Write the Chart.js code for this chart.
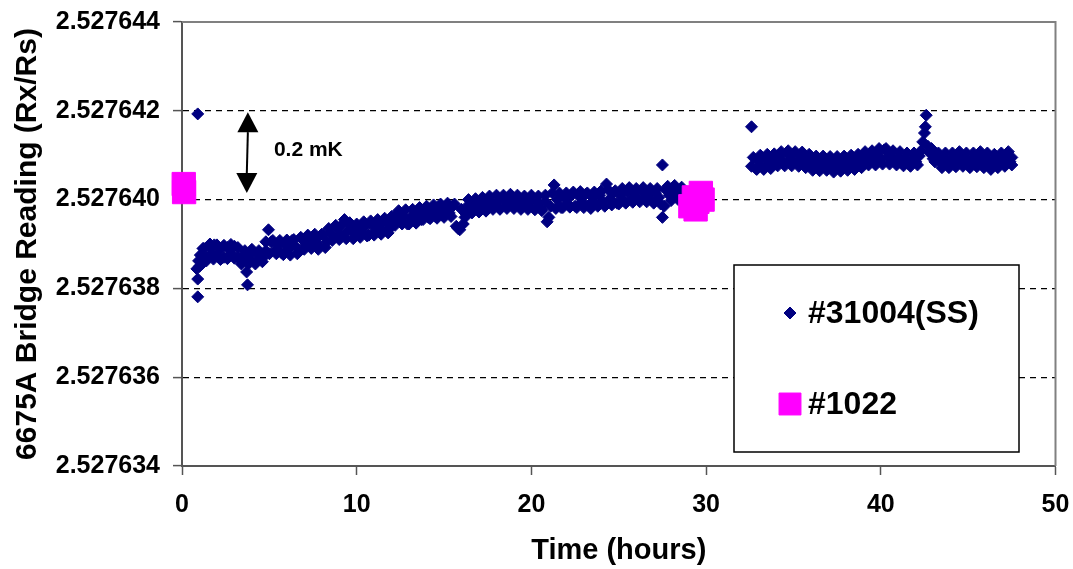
<!DOCTYPE html>
<html>
<head>
<meta charset="utf-8">
<title>6675A Bridge Reading</title>
<script src="https://cdn.jsdelivr.net/npm/chart.js@4.4.1/dist/chart.umd.min.js"></script>
<style>
  body { margin: 0; background: #fff; }
  canvas { display: block; }
</style>
</head>
<body>
<canvas id="chart" width="1073" height="569"></canvas>
<script>
// Data
const ssLabel = '#31004(SS)';
const ssTime = [
  // first run
  0.9, 0.9, 0.9, 0.85, 0.95, 1.05, 1.15, 1.25, 1.4, 1.55, 1.7, 1.85, 2.0, 2.2, 2.4, 2.6, 2.8, 3.0, 3.2, 3.4,
  3.6, 3.7, 3.75, 3.85, 4.0, 4.2, 4.4, 4.6, 4.8, 4.95, 5.1, 5.3, 5.5, 5.7, 5.9, 6.1, 6.3, 6.5, 6.7, 6.9,
  7.1, 7.3, 7.5, 7.7, 7.9, 8.1, 8.3, 8.5, 8.7, 8.9, 9.1, 9.3, 9.5, 9.7, 9.9, 10.1, 10.3, 10.5, 10.7, 10.9,
  11.1, 11.3, 11.5, 11.7, 11.9, 12.1, 12.3, 12.5, 12.7, 12.9, 13.1, 13.3, 13.5, 13.7, 13.9, 14.1, 14.3, 14.5, 14.7, 14.9,
  15.1, 15.3, 15.5, 15.7, 15.9, 16.1, 16.2, 16.4, 16.6, 16.8, 17.0, 17.2, 17.4, 17.6, 17.8, 18.0, 18.2, 18.4, 18.6, 18.8,
  19.0, 19.2, 19.4, 19.6, 19.8, 20.0, 20.2, 20.4, 20.6, 20.8, 20.9, 21.1, 21.3, 21.5, 21.7, 21.9, 22.1, 22.3, 22.5, 22.7,
  22.9, 23.1, 23.3, 23.5, 23.7, 23.9, 24.1, 24.3, 24.5, 24.7, 24.9, 25.1, 25.3, 25.5, 25.7, 25.9, 26.1, 26.3, 26.5, 26.7,
  26.9, 27.1, 27.3, 27.5, 27.5, 27.6, 27.7, 27.9, 28.1, 28.3, 28.5, 28.7,
  1.0, 1.2, 1.4, 1.6, 1.8, 2.0, 2.2, 2.4, 2.6, 2.8, 3.0, 3.2, 3.4, 3.6, 3.8, 4.0, 4.2, 4.4, 4.6, 4.8,
  5.0, 5.2, 5.4, 5.6, 5.8, 6.0, 6.2, 6.4, 6.6, 6.8, 7.0, 7.2, 7.4, 7.6, 7.8, 8.0, 8.2, 8.4, 8.6, 8.8,
  9.0, 9.2, 9.4, 9.6, 9.8, 10.0, 10.2, 10.4, 10.6, 10.8, 11.0, 11.2, 11.4, 11.6, 11.8, 12.0, 12.2, 12.4, 12.6, 12.8,
  13.0, 13.2, 13.4, 13.6, 13.8, 14.0, 14.2, 14.4, 14.6, 14.8, 15.0, 15.2, 15.4, 15.6, 15.8, 16.0, 16.2, 16.4, 16.6, 16.8,
  17.0, 17.2, 17.4, 17.6, 17.8, 18.0, 18.2, 18.4, 18.6, 18.8, 19.0, 19.2, 19.4, 19.6, 19.8, 20.0, 20.2, 20.4, 20.6, 20.8,
  21.0, 21.2, 21.4, 21.6, 21.8, 22.0, 22.2, 22.4, 22.6, 22.8, 23.0, 23.2, 23.4, 23.6, 23.8, 24.0, 24.2, 24.4, 24.6, 24.8,
  25.0, 25.2, 25.4, 25.6, 25.8, 26.0, 26.2, 26.4, 26.6, 26.8, 27.0, 27.2, 27.4, 27.8, 28.0, 28.2, 28.4, 28.6,
  // second run
  32.6, 32.6, 32.7, 32.85, 33.0, 33.2, 33.4, 33.6, 33.8, 34.0, 34.2, 34.4, 34.6, 34.8, 35.0, 35.2, 35.4, 35.6, 35.8, 36.0,
  36.2, 36.4, 36.6, 36.8, 37.0, 37.2, 37.4, 37.6, 37.8, 38.0, 38.2, 38.4, 38.6, 38.8, 39.0, 39.2, 39.4, 39.6, 39.8, 40.0,
  40.2, 40.4, 40.6, 40.8, 41.0, 41.2, 41.4, 41.6, 41.8, 42.0, 42.2, 42.4, 42.5, 42.55, 42.6, 42.7, 42.8, 43.0, 43.2, 43.4,
  43.6, 43.8, 44.0, 44.2, 44.4, 44.6, 44.8, 45.0, 45.2, 45.4, 45.6, 45.8, 46.0, 46.2, 46.4, 46.6, 46.8, 47.0, 47.2, 47.4,
  47.5,
  32.9, 33.1, 33.3, 33.5, 33.7, 33.9, 34.1, 34.3, 34.5, 34.7, 34.9, 35.1, 35.3, 35.5, 35.7, 35.9, 36.1, 36.3, 36.5, 36.7,
  36.9, 37.1, 37.3, 37.5, 37.7, 37.9, 38.1, 38.3, 38.5, 38.7, 38.9, 39.1, 39.3, 39.5, 39.7, 39.9, 40.1, 40.3, 40.5, 40.7,
  40.9, 41.1, 41.3, 41.5, 41.7, 41.9, 42.1, 42.3, 42.9, 43.1, 43.3, 43.5, 43.7, 43.9, 44.1, 44.3, 44.5, 44.7, 44.9, 45.1,
  45.3, 45.5, 45.7, 45.9, 46.1, 46.3, 46.5, 46.7, 46.9, 47.1, 47.3, 47.5
];
const ssReading = [
  // first run
  2.52764193, 2.52763781, 2.52763821, 2.52763844, 2.52763862, 2.52763875, 2.52763855, 2.52763890, 2.52763870, 2.52763895,
  2.52763880, 2.52763898, 2.52763875, 2.52763888, 2.52763870, 2.52763892, 2.52763878, 2.52763895, 2.52763872, 2.52763862,
  2.52763878, 2.52763837, 2.52763808, 2.52763865, 2.52763880, 2.52763860, 2.52763875, 2.52763868, 2.52763885, 2.52763932,
  2.52763905, 2.52763885, 2.52763898, 2.52763880, 2.52763900, 2.52763890, 2.52763908, 2.52763895, 2.52763885, 2.52763910,
  2.52763898, 2.52763915, 2.52763900, 2.52763912, 2.52763895, 2.52763920, 2.52763905, 2.52763925, 2.52763915, 2.52763935,
  2.52763920, 2.52763955, 2.52763930, 2.52763940, 2.52763922, 2.52763935, 2.52763925, 2.52763940, 2.52763920, 2.52763942,
  2.52763930, 2.52763945, 2.52763930, 2.52763948, 2.52763935, 2.52763950, 2.52763965, 2.52763950, 2.52763962, 2.52763945,
  2.52763960, 2.52763952, 2.52763968, 2.52763955, 2.52763972, 2.52763960, 2.52763975, 2.52763962, 2.52763978, 2.52763965,
  2.52763980, 2.52763970, 2.52763985, 2.52763940, 2.52763932, 2.52763945, 2.52763970, 2.52763988, 2.52763975, 2.52763990,
  2.52763978, 2.52763995, 2.52763982, 2.52763998, 2.52763985, 2.52763992, 2.52763980, 2.52764000, 2.52763988, 2.52764005,
  2.52763990, 2.52763998, 2.52763982, 2.52763995, 2.52763985, 2.52763998, 2.52763980, 2.52763992, 2.52763975, 2.52763995,
  2.52763950, 2.52763985, 2.52764033, 2.52764000, 2.52763982, 2.52764005, 2.52763990, 2.52764010, 2.52763985, 2.52764008,
  2.52763995, 2.52764012, 2.52763988, 2.52764005, 2.52763992, 2.52764010, 2.52763995, 2.52764035, 2.52764002, 2.52764015,
  2.52763992, 2.52764010, 2.52763998, 2.52764018, 2.52764000, 2.52764015, 2.52764002, 2.52764020, 2.52764005, 2.52764012,
  2.52763998, 2.52764015, 2.52764005, 2.52764078, 2.52763960, 2.52763985, 2.52764022, 2.52764010, 2.52764025, 2.52764012,
  2.52764020, 2.52764005,
  2.52763850, 2.52763890, 2.52763862, 2.52763900, 2.52763866, 2.52763898, 2.52763865, 2.52763897, 2.52763867, 2.52763899,
  2.52763868, 2.52763892, 2.52763855, 2.52763885, 2.52763855, 2.52763888, 2.52763855, 2.52763885, 2.52763860, 2.52763905,
  2.52763878, 2.52763908, 2.52763878, 2.52763908, 2.52763876, 2.52763909, 2.52763875, 2.52763910, 2.52763878, 2.52763915,
  2.52763888, 2.52763920, 2.52763890, 2.52763922, 2.52763888, 2.52763922, 2.52763892, 2.52763935, 2.52763908, 2.52763942,
  2.52763910, 2.52763945, 2.52763912, 2.52763948, 2.52763912, 2.52763945, 2.52763915, 2.52763950, 2.52763918, 2.52763952,
  2.52763920, 2.52763955, 2.52763922, 2.52763958, 2.52763925, 2.52763962, 2.52763942, 2.52763975, 2.52763945, 2.52763977,
  2.52763945, 2.52763978, 2.52763947, 2.52763982, 2.52763955, 2.52763985, 2.52763957, 2.52763988, 2.52763958, 2.52763990,
  2.52763960, 2.52763992, 2.52763962, 2.52763990, 2.52763935, 2.52763978, 2.52763960, 2.52764000, 2.52763970, 2.52764002,
  2.52763972, 2.52764005, 2.52763974, 2.52764008, 2.52763978, 2.52764010, 2.52763978, 2.52764010, 2.52763980, 2.52764012,
  2.52763980, 2.52764010, 2.52763978, 2.52764008, 2.52763978, 2.52764010, 2.52763977, 2.52764008, 2.52763978, 2.52764010,
  2.52763960, 2.52764015, 2.52763980, 2.52764015, 2.52763982, 2.52764015, 2.52763983, 2.52764017, 2.52763982, 2.52764018,
  2.52763982, 2.52764015, 2.52763980, 2.52764017, 2.52763985, 2.52764020, 2.52763985, 2.52764022, 2.52763988, 2.52764020,
  2.52763990, 2.52764025, 2.52763992, 2.52764027, 2.52763994, 2.52764025, 2.52763995, 2.52764027, 2.52763995, 2.52764025,
  2.52763992, 2.52764025, 2.52763990, 2.52764030, 2.52763998, 2.52764032, 2.52764000, 2.52764028,
  // second run
  2.52764164, 2.52764075, 2.52764095, 2.52764070, 2.52764088, 2.52764075, 2.52764092, 2.52764078, 2.52764095, 2.52764080,
  2.52764098, 2.52764085, 2.52764105, 2.52764090, 2.52764102, 2.52764085, 2.52764098, 2.52764082, 2.52764095, 2.52764078,
  2.52764092, 2.52764075, 2.52764090, 2.52764078, 2.52764088, 2.52764072, 2.52764085, 2.52764075, 2.52764088, 2.52764078,
  2.52764092, 2.52764080, 2.52764090, 2.52764082, 2.52764095, 2.52764085, 2.52764098, 2.52764088, 2.52764105, 2.52764092,
  2.52764112, 2.52764095, 2.52764105, 2.52764088, 2.52764095, 2.52764082, 2.52764092, 2.52764080, 2.52764090, 2.52764085,
  2.52764098, 2.52764130, 2.52764150, 2.52764164, 2.52764190, 2.52764120, 2.52764105, 2.52764092, 2.52764100, 2.52764085,
  2.52764095, 2.52764080, 2.52764092, 2.52764085, 2.52764098, 2.52764088, 2.52764095, 2.52764082, 2.52764092, 2.52764085,
  2.52764098, 2.52764085, 2.52764095, 2.52764078, 2.52764090, 2.52764082, 2.52764095, 2.52764088, 2.52764100, 2.52764085,
  2.52764095,
  2.52764068, 2.52764100, 2.52764068, 2.52764102, 2.52764070, 2.52764103, 2.52764076, 2.52764108, 2.52764076, 2.52764110,
  2.52764076, 2.52764108, 2.52764075, 2.52764107, 2.52764072, 2.52764102, 2.52764066, 2.52764098, 2.52764065, 2.52764098,
  2.52764066, 2.52764097, 2.52764062, 2.52764097, 2.52764064, 2.52764098, 2.52764066, 2.52764100, 2.52764068, 2.52764102,
  2.52764072, 2.52764108, 2.52764078, 2.52764110, 2.52764078, 2.52764115, 2.52764080, 2.52764115, 2.52764080, 2.52764110,
  2.52764078, 2.52764108, 2.52764076, 2.52764105, 2.52764075, 2.52764105, 2.52764078, 2.52764110, 2.52764115, 2.52764085,
  2.52764105, 2.52764072, 2.52764105, 2.52764072, 2.52764105, 2.52764074, 2.52764108, 2.52764075, 2.52764105, 2.52764072,
  2.52764105, 2.52764074, 2.52764108, 2.52764072, 2.52764105, 2.52764068, 2.52764102, 2.52764072, 2.52764105, 2.52764075,
  2.52764108, 2.52764078
];

const refLabel = '#1022';
const refTime = [0.1, 0.12, 29.1, 29.3, 29.5, 29.7, 29.8, 29.4];
const refReading = [2.52764035, 2.52764017, 2.52763985, 2.52764005, 2.52763995, 2.52764015, 2.52764000, 2.52763978];

const xTicks = [0, 10, 20, 30, 40, 50];
const yTicks = [2.527634, 2.527636, 2.527638, 2.52764, 2.527642, 2.527644];

// "0.2 mK" arrow, in data units
const arrowTime = [3.77, 3.71];
const arrowReading = [2.52764197, 2.52764015];
const noteTime = 5.26;
const noteReading = 2.52764112;
const noteText = '0.2 mK';

const navy = '#000080';
const magenta = '#ff00ff';
const fontFamily = "'Liberation Sans', Arial, sans-serif";

const toPoints = (xs, ys) => xs.map((x, i) => ({ x: x, y: ys[i] }));

// top and right edges of the plot area
const frame = {
  id: 'frame',
  beforeDatasetsDraw(chart) {
    const { ctx, chartArea: a } = chart;
    ctx.save();
    ctx.strokeStyle = '#808080';
    ctx.lineWidth = 2;
    ctx.beginPath();
    ctx.moveTo(a.left, a.top);
    ctx.lineTo(a.right, a.top);
    ctx.lineTo(a.right, a.bottom);
    ctx.stroke();
    ctx.restore();
  },
};

const arrowNote = {
  id: 'arrowNote',
  afterDatasetsDraw(chart) {
    const { ctx, scales } = chart;
    const x1 = scales.x.getPixelForValue(arrowTime[0]);
    const y1 = scales.y.getPixelForValue(arrowReading[0]);
    const x2 = scales.x.getPixelForValue(arrowTime[1]);
    const y2 = scales.y.getPixelForValue(arrowReading[1]);
    const head = 20, half = 10.5;
    ctx.save();
    ctx.strokeStyle = '#000';
    ctx.fillStyle = '#000';
    ctx.lineWidth = 2;
    ctx.beginPath();
    ctx.moveTo(x1, y1 + head);
    ctx.lineTo(x2, y2 - head);
    ctx.stroke();
    ctx.beginPath();
    ctx.moveTo(x1, y1);
    ctx.lineTo(x1 - half, y1 + head);
    ctx.lineTo(x1 + half, y1 + head);
    ctx.closePath();
    ctx.fill();
    ctx.beginPath();
    ctx.moveTo(x2, y2);
    ctx.lineTo(x2 - half, y2 - head);
    ctx.lineTo(x2 + half, y2 - head);
    ctx.closePath();
    ctx.fill();
    ctx.font = 'bold 21px ' + fontFamily;
    ctx.textBaseline = 'middle';
    ctx.textAlign = 'left';
    ctx.fillText(noteText, scales.x.getPixelForValue(noteTime), scales.y.getPixelForValue(noteReading));
    ctx.restore();
  },
};

// boxed legend inside the plot
const boxLegend = {
  id: 'boxLegend',
  afterDraw(chart) {
    const { ctx } = chart;
    const box = { left: 734, top: 265, width: 285, height: 187 };
    ctx.save();
    ctx.fillStyle = '#fff';
    ctx.fillRect(box.left, box.top, box.width, box.height);
    ctx.strokeStyle = '#000';
    ctx.lineWidth = 1.5;
    ctx.strokeRect(box.left, box.top, box.width, box.height);
    ctx.font = 'bold 32px ' + fontFamily;
    ctx.textBaseline = 'middle';
    const rows = [313, 404];
    chart.data.datasets.forEach((ds, i) => {
      ctx.fillStyle = ds.pointBackgroundColor;
      ctx.strokeStyle = ds.pointBorderColor;
      ctx.lineWidth = 1;
      Chart.helpers.drawPoint(ctx, {
        pointStyle: ds.pointStyle,
        radius: i === 0 ? 6 : 15.5,
        borderWidth: 1,
        rotation: 0,
      }, 790, rows[i]);
      ctx.fillStyle = '#000';
      ctx.fillText(ds.label, 808, rows[i] + 1);
    });
    ctx.restore();
  },
};

const ctx = document.getElementById('chart');
new Chart(ctx, {
  type: 'scatter',
  data: {
    datasets: [
      {
        label: ssLabel,
        data: toPoints(ssTime, ssReading),
        pointStyle: 'rectRot',
        pointRadius: 6,
        pointBorderWidth: 1,
        pointBackgroundColor: navy,
        pointBorderColor: navy,
        order: 1,
        clip: false,
      },
      {
        label: refLabel,
        data: toPoints(refTime, refReading),
        pointStyle: 'rect',
        pointRadius: 16.5,
        pointBorderWidth: 1,
        pointBackgroundColor: magenta,
        pointBorderColor: magenta,
        order: 0,
        clip: false,
      },
    ],
  },
  options: {
    responsive: false,
    animation: false,
    events: [],
    layout: { padding: { left: 0, top: 22, right: 16, bottom: 0 } },
    plugins: {
      legend: { display: false },
      tooltip: { enabled: false },
    },
    scales: {
      x: {
        type: 'linear',
        min: 0,
        max: 50,
        afterBuildTicks: (s) => { s.ticks = xTicks.map((v) => ({ value: v })); },
        afterFit: (s) => { s.height = 103; s.paddingLeft = 0; s.paddingRight = 0; },
        grid: { drawOnChartArea: false, drawTicks: true, tickLength: 9, tickColor: '#555', tickWidth: 1.5 },
        border: { display: true, color: '#555', width: 2 },
        ticks: {
          color: '#000',
          padding: 15,
          maxRotation: 0,
          font: { family: fontFamily, size: 25, weight: 'bold' },
        },
        title: {
          display: true,
          text: 'Time (hours)',
          color: '#000',
          padding: { top: 0, bottom: 1 },
          font: { family: fontFamily, size: 29, weight: 'bold' },
        },
      },
      y: {
        type: 'linear',
        min: 2.527634,
        max: 2.527644,
        afterBuildTicks: (s) => { s.ticks = yTicks.map((v) => ({ value: v })); },
        afterFit: (s) => { s.width = 182; s.paddingTop = 0; s.paddingBottom = 0; },
        grid: {
          color: (c) => (c.index === 0 || c.index === yTicks.length - 1) ? 'rgba(0,0,0,0)' : '#000',
          lineWidth: 1.2,
          tickBorderDash: [],
          tickColor: '#555',
          tickWidth: 1.5,
          tickLength: 9,
        },
        border: { display: true, color: '#555', width: 2, dash: [6, 5] },
        ticks: {
          color: '#000',
          padding: 13,
          callback: (v) => v.toFixed(6),
          font: { family: fontFamily, size: 25, weight: 'bold' },
        },
        title: {
          display: true,
          text: '6675A Bridge Reading (Rx/Rs)',
          color: '#000',
          padding: { top: 10, bottom: 0 },
          font: { family: fontFamily, size: 30, weight: 'bold' },
        },
      },
    },
  },
  plugins: [frame, arrowNote, boxLegend],
});
</script>
</body>
</html>
